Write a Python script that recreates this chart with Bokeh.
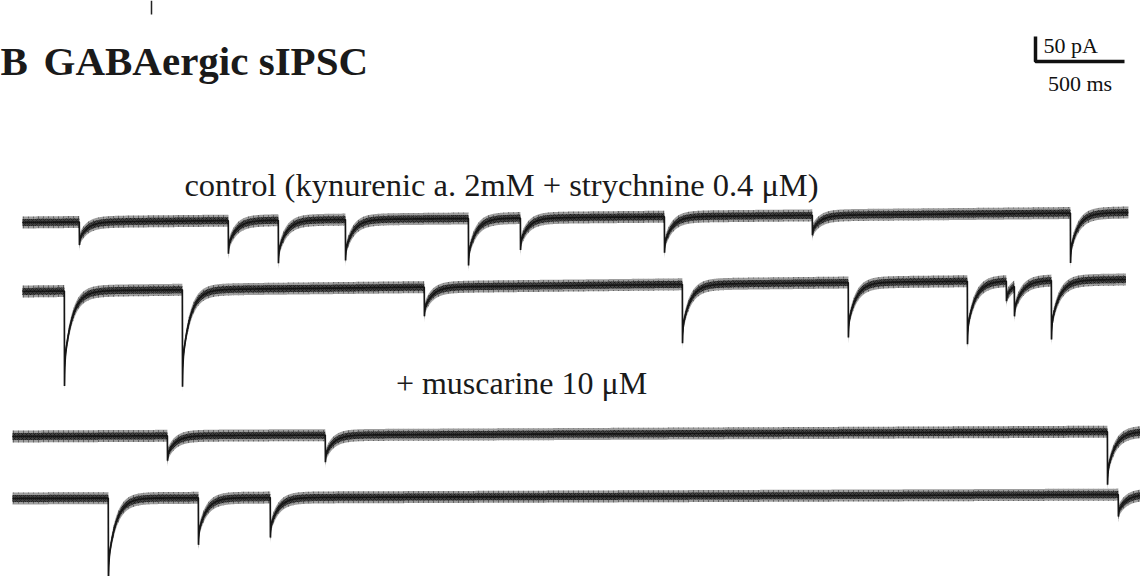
import numpy as np
from bokeh.plotting import figure
from bokeh.models import Range1d
from bokeh.core.properties import value
from bokeh.embed import file_html
from bokeh.resources import INLINE

# ---- recording data (event onsets in ms from sweep start, peak amplitudes in pA) ----
sweep1_onsets = [320, 1157, 1438, 1815, 2506, 2798, 3607, 4438, 5888]
sweep1_amps = [46, 66, 86, 82, 94, 64, 72, 40, 100]
sweep2_onsets = [236, 899, 2258, 3708, 4640, 5309, 5528, 5573, 5781]
sweep2_amps = [190, 194, 58, 118, 110, 126, 40, 60, 118]
sweep3_onsets = [871, 1758, 6152]
sweep3_amps = [50, 54, 106]
sweep4_onsets = [539, 1045, 1449, 6213]
sweep4_amps = [170, 94, 80, 44]

# baseline drift over each sweep (pA, start -> end)
sweep_drift = [20, 24, 10, 8]
sweep_duration = [6213, 6200, 6400, 6400]  # ms

panel_letter = "B"
title = "GABAergic sIPSC"
control_label = "control (kynurenic a. 2mM + strychnine 0.4 \u03bcM)"
musc_label = "+ muscarine 10 \u03bcM"
bar_pa = 50
bar_ms = 500

# ---- page scale ----
W, H = 1140, 576
MS_PER_PX = 500 / 89.0
PA_PER_PX = 50 / 25.0


def X(px):
    return px * MS_PER_PX


def Y(py):
    return -py * PA_PER_PX


p = figure(width=W, height=H, output_backend="svg", toolbar_location=None,
           x_range=Range1d(0, X(W)), y_range=Range1d(Y(H), 0),
           x_axis_location=None, y_axis_location=None, min_border=0)
p.grid.visible = False
p.outline_line_color = None
p.background_fill_color = "white"
p.border_fill_color = "white"

DT = 1.0  # ms sampling


def build_sweep(onsets, amps, drift, duration):
    t = np.arange(0.0, duration, DT)
    cur = drift * t / duration
    for t0, a in zip(onsets, amps):
        m = t >= t0
        s = t[m] - t0
        cur[m] -= a * (0.25 * np.exp(-s / 2.0) + 0.75 * np.exp(-s / 45.0))
    return t, cur


sweeps = [
    (sweep1_onsets, sweep1_amps, 22, 222),
    (sweep2_onsets, sweep2_amps, 22, 291),
    (sweep3_onsets, sweep3_amps, 12, 436),
    (sweep4_onsets, sweep4_amps, 12, 498),
]

OUTER = 6.0 * PA_PER_PX
INNER = 3.5 * PA_PER_PX
for k, (ons, amps, x0, y0) in enumerate(sweeps):
    t, cur = build_sweep(ons, amps, sweep_drift[k], sweep_duration[k])
    xs = X(x0) + t
    ys = Y(y0) + cur
    p.varea(x=xs, y1=ys - OUTER, y2=ys + OUTER, fill_color="#858585", fill_alpha=0.8,
            hatch_pattern=":", hatch_color="#2a2a2a", hatch_scale=5, hatch_alpha=0.5)
    p.varea(x=xs, y1=ys - INNER, y2=ys + INNER, fill_color="#3c3c3c", fill_alpha=0.95,
            hatch_pattern="x", hatch_color="#111111", hatch_scale=4, hatch_alpha=0.6)
    p.line(xs, ys, line_color="#151515", line_width=1.7)

# ---- scale bar ----
cx, cy = X(1035), Y(61)
p.line([cx, cx, cx + bar_ms], [cy + bar_pa, cy, cy], line_color="#111111", line_width=3.5)
p.text(x=[X(1043)], y=[Y(45)], text=[f"{bar_pa} pA"],
       text_font=value("Liberation Serif"), text_font_size="22px", text_color="#111111",
       text_baseline="alphabetic", text_align="left")
p.text(x=[cx + bar_ms / 2], y=[Y(83)], text=[f"{bar_ms} ms"],
       text_font=value("Liberation Serif"), text_font_size="22px", text_color="#111111",
       text_baseline="alphabetic", text_align="center")

# ---- texts ----
for txt, xpx in ((panel_letter, 0), (title, 43)):
    p.text(x=[X(xpx)], y=[Y(60)], text=[txt], text_font=value("Liberation Serif"),
           text_font_style="bold", text_font_size="41px", text_color="#1a1a1a",
           text_baseline="alphabetic", text_align="left")
p.text(x=[X(501)], y=[Y(184)], text=[control_label], text_font=value("Liberation Serif"),
       text_font_size="32.5px", text_color="#1a1a1a", text_baseline="middle", text_align="center")
p.text(x=[X(521)], y=[Y(382)], text=[musc_label], text_font=value("Liberation Serif"),
       text_font_size="32px", text_color="#1a1a1a", text_baseline="middle", text_align="center")

# fragment of the panel above
p.line([X(151), X(151)], [Y(0), Y(14)], line_color="#222222", line_width=1.5)

open("out.html", "w").write(file_html(p, INLINE))
